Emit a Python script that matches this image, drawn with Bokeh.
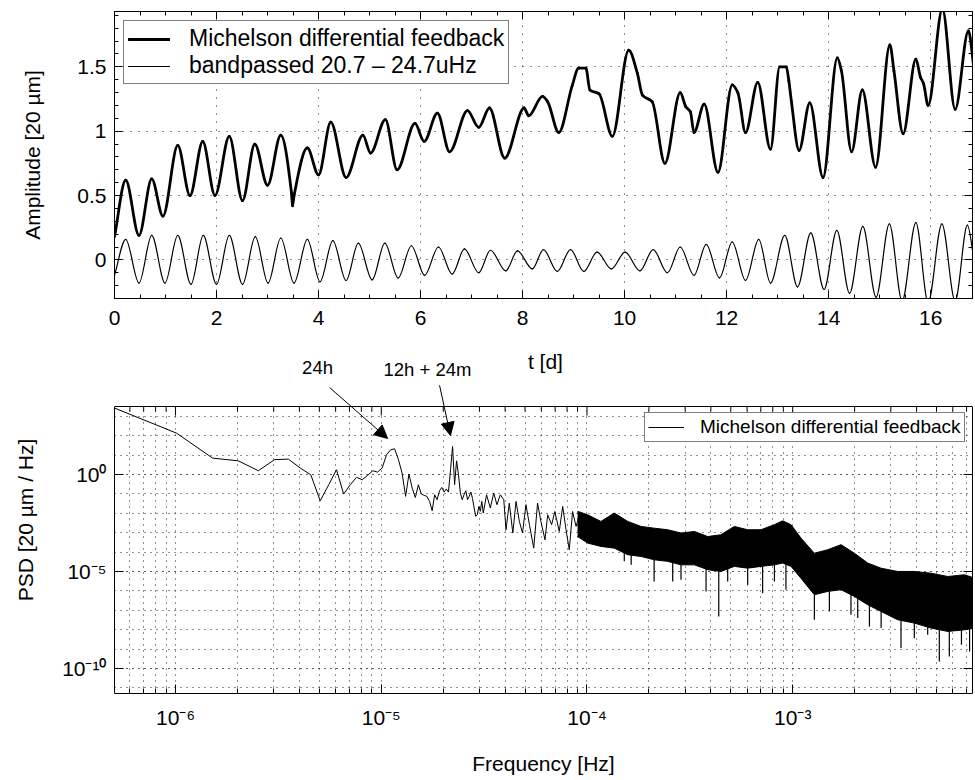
import numpy as np
from bokeh.plotting import figure
from bokeh.layouts import column
from bokeh.models import (Range1d, FixedTicker, LinearAxis, LogAxis, Legend, LegendItem,
                          CustomJSTickFormatter, Label, Arrow, NormalHead, BoxAnnotation, Span)
from bokeh.embed import file_html
from bokeh.resources import INLINE

FONT = "Liberation Sans"

# ---------------- top panel data ----------------
t_feedback = [0.00, 0.22, 0.48, 0.73, 0.95, 1.24, 1.48, 1.73, 1.97, 2.25, 2.51, 2.75, 3.00, 3.26,
              3.47, 3.49, 3.52, 3.78, 4.00, 4.24, 4.54, 4.87, 5.02, 5.31, 5.54, 5.89, 6.07, 6.33,
              6.57, 6.92, 7.14, 7.35, 7.65, 8.03, 8.12, 8.39, 8.49, 8.71, 8.97, 9.10, 9.24, 9.32,
              9.50, 9.76, 10.08, 10.25, 10.35, 10.54, 10.79, 11.09, 11.20, 11.29, 11.36, 11.56,
              11.83, 12.11, 12.22, 12.37, 12.61, 12.86, 13.04, 13.17, 13.22, 13.27, 13.42, 13.63,
              13.89, 14.17, 14.25, 14.45, 14.66, 14.92, 15.20, 15.28, 15.46, 15.71, 15.80, 15.86,
              15.95, 16.23, 16.48, 16.74, 16.85]
a_feedback = [0.18, 0.62, 0.19, 0.63, 0.34, 0.89, 0.50, 0.92, 0.50, 0.96, 0.46, 0.90, 0.58, 0.97,
              0.52, 0.42, 0.50, 0.87, 0.66, 1.07, 0.64, 0.97, 0.83, 1.09, 0.70, 1.06, 0.92, 1.14,
              0.84, 1.16, 1.03, 1.18, 0.79, 1.18, 1.12, 1.27, 1.23, 0.99, 1.35, 1.49, 1.49, 1.32,
              1.29, 0.96, 1.63, 1.45, 1.28, 1.23, 0.75, 1.30, 1.19, 1.15, 0.99, 1.21,
              0.68, 1.36, 1.30, 0.99, 1.38, 0.86, 1.50, 1.50, 1.39, 1.23, 0.85, 1.22,
              0.64, 1.57, 1.47, 0.84, 1.32, 0.72, 1.67, 1.47, 0.98, 1.56, 1.42, 1.37,
              1.20, 1.95, 1.17, 1.78, 1.48]

t_band = [0.00, 0.22, 0.48, 0.73, 0.99, 1.24, 1.50, 1.74, 2.00, 2.25, 2.51, 2.76, 3.01, 3.26,
          3.52, 3.78, 4.03, 4.28, 4.54, 4.78, 5.05, 5.30, 5.56, 5.82, 6.08, 6.35, 6.62, 6.86,
          7.14, 7.37, 7.67, 7.90, 8.19, 8.41, 8.68, 8.94, 9.20, 9.46, 9.74, 10.01, 10.30, 10.56,
          10.84, 11.09, 11.36, 11.60, 11.86, 12.11, 12.37, 12.63, 12.86, 13.14, 13.39, 13.65,
          13.91, 14.16, 14.41, 14.67, 14.93, 15.19, 15.44, 15.71, 15.95, 16.22, 16.48, 16.72, 16.85]
a_band = [-0.12, 0.16, -0.18, 0.19, -0.18, 0.19, -0.19, 0.19, -0.19, 0.19, -0.19, 0.18, -0.18, 0.17,
          -0.18, 0.16, -0.17, 0.15, -0.16, 0.13, -0.155, 0.13, -0.14, 0.11, -0.12, 0.10, -0.11, 0.085,
          -0.10, 0.075, -0.085, 0.07, -0.07, 0.08, -0.09, 0.08, -0.09, 0.06, -0.07, 0.06, -0.085, 0.08,
          -0.10, 0.10, -0.12, 0.12, -0.14, 0.14, -0.16, 0.16, -0.18, 0.19, -0.21, 0.21,
          -0.23, 0.23, -0.26, 0.26, -0.29, 0.28, -0.32, 0.29, -0.33, 0.28, -0.32, 0.27, 0.00]

# ---------------- PSD data ----------------
f_psd = [5.05e-7, 1.01e-6, 1.515e-6, 2.02e-6, 2.525e-6, 3.03e-6, 3.535e-6, 4.04e-6, 4.545e-6, 5.05e-6,
         5.555e-6, 6.06e-6, 6.565e-6, 7.07e-6, 7.575e-6, 8.08e-6, 8.585e-6, 9.09e-6, 9.595e-6, 1.01e-5,
         1.0605e-5, 1.111e-5, 1.1615e-5, 1.212e-5, 1.2625e-5, 1.313e-5, 1.3635e-5, 1.414e-5, 1.4645e-5, 1.515e-5,
         1.5655e-5, 1.616e-5, 1.6665e-5, 1.717e-5, 1.7675e-5, 1.818e-5, 1.8685e-5, 1.919e-5, 1.9695e-5, 2.02e-5,
         2.0705e-5, 2.121e-5, 2.1715e-5, 2.222e-5, 2.2725e-5, 2.323e-5, 2.3735e-5, 2.424e-5, 2.4745e-5, 2.525e-5,
         2.5755e-5, 2.626e-5, 2.6765e-5, 2.727e-5, 2.7775e-5, 2.828e-5, 2.8785e-5, 2.929e-5, 2.9795e-5, 3.03e-5,
         3.0805e-5, 3.131e-5,
         3.25e-5, 3.39e-5, 3.52e-5, 3.65e-5, 3.79e-5, 3.94e-5, 4.04e-5, 4.19e-5, 4.36e-5, 4.52e-5,
         4.69e-5, 4.86e-5, 5.05e-5, 5.25e-5, 5.51e-5, 5.75e-5, 5.97e-5, 6.25e-5, 6.44e-5, 6.73e-5,
         6.98e-5, 7.33e-5, 7.62e-5, 7.91e-5, 8.20e-5, 8.51e-5, 8.85e-5, 9.18e-5, 9.53e-5, 1.007e-4]
psd_log10 = [3.42, 2.13, 0.84, 0.70, 0.19, 0.76, 0.79, 0.33, -0.02, -1.36,
             -0.53, 0.24, -1.01, -0.53, -0.15, -0.27, -0.05, 0.19, 0.12, 0.33,
             1.01, 1.27, 1.32, 0.76, 0.07, -1.13, 0.02, -0.71, -1.19, -0.53,
             -1.01, -1.08, -1.13, -1.39, -1.87, -1.05, -1.30, -0.84, -0.67, -0.91,
             -0.75, -0.91, 0.24, 1.44, -0.53, 0.70, -0.02, -0.96, -1.30, -1.05,
             -0.84, -1.30, -1.13, -0.91, -1.25, -1.73, -2.16, -2.08, -1.65, -1.90,
             -1.39, -1.99,
             -1.05, -1.73, -0.96, -1.56, -1.05, -1.30, -2.85, -1.48, -3.02, -1.39,
             -2.42, -3.02, -1.56, -2.59, -3.80, -1.48, -2.42, -3.37, -2.08, -2.59,
             -1.91, -2.94, -1.65, -2.85, -3.88, -1.91, -2.68, -2.08, -3.11, -2.25]

# dense high-frequency part: upper and lower edge of the noise band
f_env = [9.0e-5, 1.0074e-4, 1.169e-4, 1.358e-4, 1.578e-4, 1.832e-4, 2.123e-4, 2.466e-4, 2.864e-4, 3.327e-4,
         3.864e-4, 4.477e-4, 5.200e-4, 6.039e-4, 7.015e-4, 8.147e-4, 8.933e-4, 9.817e-4, 1.0965e-3, 1.2735e-3,
         1.479e-3, 1.718e-3, 1.995e-3, 2.317e-3, 2.685e-3, 3.236e-3, 3.899e-3, 4.699e-3, 5.675e-3, 6.839e-3,
         7.691e-3]
psd_upper_log10 = [-1.90, -2.08, -2.42, -1.99, -2.42, -2.68, -2.77, -2.85, -3.02, -2.94,
                   -3.20, -3.11, -2.68, -2.85, -2.85, -2.59, -2.39, -2.59, -3.28, -4.06,
                   -3.88, -3.62, -4.06, -4.57, -4.83, -5.00, -5.00, -5.09, -5.26, -5.17,
                   -5.35]
psd_lower_log10 = [-3.20, -3.54, -3.71, -3.80, -4.14, -4.23, -4.40, -4.48, -4.66, -4.66,
                   -4.91, -5.00, -4.74, -4.83, -4.74, -4.66, -4.57, -4.74, -5.35, -6.20,
                   -6.03, -5.94, -6.29, -6.72, -7.06, -7.49, -7.66, -7.92, -8.09, -8.01,
                   -7.92]
# deepest downward spikes of the band
f_spike = [1.518e-4, 1.64e-4, 2.12e-4, 2.61e-4, 2.864e-4, 3.79e-4, 4.37e-4, 4.83e-4, 6.04e-4, 7.14e-4,
           8.15e-4, 9.27e-4, 1.274e-3, 1.507e-3, 1.919e-3, 2.07e-3, 2.36e-3, 2.69e-3, 3.36e-3, 3.90e-3,
           4.53e-3, 5.16e-3, 5.77e-3, 6.61e-3, 7.24e-3]
psd_spike_log10 = [-4.48, -4.66, -5.52, -5.52, -5.43, -6.03, -7.32, -5.52, -5.69, -6.12,
                   -5.52, -5.94, -7.49, -7.06, -7.23, -7.40, -7.84, -7.92, -8.95, -8.44,
                   -8.26, -9.64, -9.38, -8.78, -9.12]

# annotations placed above the PSD box: (f, PSD) positions
arrow_24h = (5.61e-6, 3.0e4, 1.074e-5, 71.8)
arrow_12h = (1.92e-5, 3.9e4, 2.17e-5, 102.0)
text_24h = (4.90e-6, 3.24e5)
text_12h = (1.678e-5, 2.55e5)
text_taxis = (6.28e-5, 6.59e5)

PSD_TOP = 3.16e3          # upper limit of the PSD axes box
PSD_BOTTOM = 5.13e-12
PX_PER_DECADE = 19.4


def smooth_segments(x, y):
    """Monotone cubic (Fritsch-Carlson) Bezier segments through the read points."""
    x = np.asarray(x, float)
    y = np.asarray(y, float)
    h = np.diff(x)
    d = np.diff(y) / h
    m = np.zeros_like(y)
    m[0], m[-1] = d[0], d[-1]
    for i in range(1, len(y) - 1):
        if d[i - 1] * d[i] <= 0:
            m[i] = 0.0
        else:
            w1 = 2 * h[i] + h[i - 1]
            w2 = h[i] + 2 * h[i - 1]
            m[i] = (w1 + w2) / (w1 / d[i - 1] + w2 / d[i])
    return dict(x0=x[:-1], y0=y[:-1], x1=x[1:], y1=y[1:],
                cx0=x[:-1] + h / 3, cy0=y[:-1] + m[:-1] * h / 3,
                cx1=x[1:] - h / 3, cy1=y[1:] - m[1:] * h / 3)


def style_axis(ax, ticker, show_labels=True, tick_in=8, minor_in=4, size="21px"):
    ax.ticker = ticker
    ax.axis_line_color = "black"
    ax.major_tick_line_color = "black"
    ax.major_tick_in = tick_in
    ax.major_tick_out = 0
    ax.minor_tick_line_color = "black"
    ax.minor_tick_in = minor_in
    ax.minor_tick_out = 0
    ax.major_label_text_font = FONT
    ax.major_label_text_color = "black"
    ax.axis_label_text_font = FONT
    ax.axis_label_text_font_style = "normal"
    ax.axis_label_text_font_size = "21px"
    ax.axis_label_text_color = "black"
    if show_labels:
        ax.major_label_text_font_size = size
    else:
        ax.major_label_text_font_size = "1px"
        ax.major_label_text_alpha = 0
        ax.major_label_standoff = 0


def text_label(pos, text, size):
    return Label(x=pos[0], y=pos[1], text=text, text_align="center", text_baseline="middle",
                 text_font=FONT, text_font_size=size, text_color="black")


# ======================= top panel =======================
p1 = figure(width=975, height=346, x_range=Range1d(0, 16.82), y_range=Range1d(-0.3, 1.93),
            output_backend="svg", toolbar_location=None,
            min_border_left=114, min_border_right=3, min_border_top=11, min_border_bottom=48)
p1.outline_line_color = "black"
p1.background_fill_color = "white"
p1.border_fill_color = "white"

xt1 = FixedTicker(ticks=list(range(0, 17, 2)), minor_ticks=[0.5 * i for i in range(34)])
yt1 = FixedTicker(ticks=[0, 0.5, 1, 1.5], minor_ticks=[round(-0.3 + 0.1 * i, 1) for i in range(23)])

p1.add_layout(LinearAxis(), "above")
p1.add_layout(LinearAxis(), "right")
style_axis(p1.below[0], xt1)
style_axis(p1.left[0], yt1)
style_axis(p1.above[0], xt1, show_labels=False)
style_axis(p1.right[0], yt1, show_labels=False)
p1.left[0].formatter = CustomJSTickFormatter(code="return String(Math.round(tick*10)/10);")
p1.left[0].axis_label = "Amplitude [20 µm]"
p1.below[0].major_label_standoff = 12
p1.left[0].major_label_standoff = 8
p1.left[0].axis_label_standoff = 30

for g, tk in ((p1.xgrid[0], xt1), (p1.ygrid[0], yt1)):
    g.ticker = tk
    g.grid_line_color = "#222222"
    g.grid_line_dash = "1 7"
    g.grid_line_width = 1

seg_fb = smooth_segments(t_feedback, a_feedback)
seg_bp = smooth_segments(t_band, a_band)
r_bp = p1.bezier(line_color="black", line_width=1.2, line_cap="round", **seg_bp)
r_fb = p1.bezier(line_color="black", line_width=2.8, line_cap="round", **seg_fb)

legend1 = Legend(items=[LegendItem(label="Michelson differential feedback", renderers=[r_fb]),
                        LegendItem(label="bandpassed 20.7 – 24.7uHz", renderers=[r_bp])],
                 location="top_left", margin=9, padding=4, spacing=0,
                 glyph_width=42, label_standoff=19,
                 label_text_font=FONT, label_text_font_size="23px", label_text_color="black",
                 border_line_color="black", border_line_width=1,
                 background_fill_color="white", background_fill_alpha=1)
p1.add_layout(legend1)

# ======================= PSD panel =======================
# the plotting area reaches above the axes box, so that the time-axis title and the
# annotation texts/arrows can be drawn there
y_top = PSD_TOP * 10 ** (60 / PX_PER_DECADE)
p2 = figure(width=975, height=432, x_axis_type="log", y_axis_type="log",
            x_range=Range1d(5.05e-7, 7.48e-3), y_range=Range1d(PSD_BOTTOM, y_top),
            output_backend="svg", toolbar_location=None,
            min_border_left=114, min_border_right=3, min_border_top=0, min_border_bottom=85)
p2.outline_line_color = None
p2.background_fill_color = "white"
p2.border_fill_color = "white"

x_minor = [m * 10.0 ** e for e in range(-7, -2) for m in range(2, 10)]
x_major = [1e-6, 1e-5, 1e-4, 1e-3]
xt2 = FixedTicker(ticks=x_major, minor_ticks=x_minor)
yt2 = FixedTicker(ticks=[1e-10, 1e-5, 1.0], minor_ticks=[10.0 ** e for e in range(-11, 4)])
p2.add_layout(LogAxis(), "right")
style_axis(p2.below[0], xt2, tick_in=9, minor_in=5)
style_axis(p2.left[0], yt2, tick_in=9)
style_axis(p2.right[0], yt2, show_labels=False, tick_in=9)
for ax in (p2.left[0], p2.right[0]):
    ax.minor_tick_line_color = None
    ax.bounds = (PSD_BOTTOM, PSD_TOP)

sup_code = """
const e = Math.round(Math.log10(tick));
const sup = {"0":"\u2070","1":"\u00b9","2":"\u00b2","3":"\u00b3","4":"\u2074","5":"\u2075",
             "6":"\u2076","7":"\u2077","8":"\u2078","9":"\u2079","-":"\u207b"};
return "10" + String(e).split("").map(c => sup[c]).join("");
"""
p2.below[0].formatter = CustomJSTickFormatter(code=sup_code)
p2.left[0].formatter = CustomJSTickFormatter(code=sup_code)
p2.below[0].axis_label = "Frequency [Hz]"
p2.left[0].axis_label = "PSD [20 µm / Hz]"
p2.below[0].major_label_standoff = 12
p2.below[0].axis_label_standoff = 20
p2.left[0].major_label_standoff = 8
p2.left[0].axis_label_standoff = 22

for g, tk in ((p2.xgrid[0], xt2), (p2.ygrid[0], yt2)):
    g.ticker = tk
    g.grid_line_color = "#222222"
    g.grid_line_dash = "1 5"
    g.minor_grid_line_color = "#222222"
    g.minor_grid_line_dash = "1 5"

f_env_a = np.array(f_env)
up = 10.0 ** np.array(psd_upper_log10)
lo = 10.0 ** np.array(psd_lower_log10)
p2.varea(x=f_env_a, y1=lo, y2=up, fill_color="black")
p2.line(f_env_a, up, line_color="black", line_width=1)
p2.line(f_env_a, lo, line_color="black", line_width=1)
spike_top = 10.0 ** np.interp(np.log10(f_spike), np.log10(f_env), psd_lower_log10)
p2.segment(x0=f_spike, y0=spike_top, x1=f_spike, y1=10.0 ** np.array(psd_spike_log10),
           line_color="black", line_width=1.2)
psd_line = p2.line(f_psd, 10.0 ** np.array(psd_log10), line_color="black", line_width=1)

# blank strip above the axes box, top border line and its inward ticks
p2.add_layout(BoxAnnotation(bottom=PSD_TOP, fill_color="white", fill_alpha=1, line_color=None))
p2.add_layout(Span(location=PSD_TOP, dimension="width", line_color="black", line_width=1))
x_lo = 5.05e-7
maj = [v for v in x_major if v > x_lo]
mnr = [v for v in x_minor if v > x_lo]
p2.segment(x0=maj, x1=maj, y0=[PSD_TOP] * len(maj),
           y1=[PSD_TOP * 10 ** (-9 / PX_PER_DECADE)] * len(maj), line_color="black", line_width=1)
p2.segment(x0=mnr, x1=mnr, y0=[PSD_TOP] * len(mnr),
           y1=[PSD_TOP * 10 ** (-5 / PX_PER_DECADE)] * len(mnr), line_color="black", line_width=1)

p2.add_layout(text_label(text_taxis, "t [d]", "21px"))
p2.add_layout(text_label(text_24h, "24h", "18.5px"))
p2.add_layout(text_label(text_12h, "12h + 24m", "18.5px"))
head = dict(size=13, fill_color="black", line_color="black")
for xs, ys, xe, ye in (arrow_24h, arrow_12h):
    p2.add_layout(Arrow(end=NormalHead(**head), x_start=xs, y_start=ys, x_end=xe, y_end=ye,
                        line_color="black", line_width=1))

legend2 = Legend(items=[LegendItem(label="Michelson differential feedback", renderers=[psd_line])],
                 location=(530, 251), padding=3, spacing=0,
                 glyph_width=36, label_standoff=16,
                 label_text_font=FONT, label_text_font_size="19px", label_text_color="black",
                 border_line_color="black", border_line_width=1,
                 background_fill_color="white", background_fill_alpha=1)
p2.add_layout(legend2)

layout = column(p1, p2, spacing=0)
with open("out.html", "w", encoding="utf-8") as fh:
    fh.write(file_html(layout, INLINE))
